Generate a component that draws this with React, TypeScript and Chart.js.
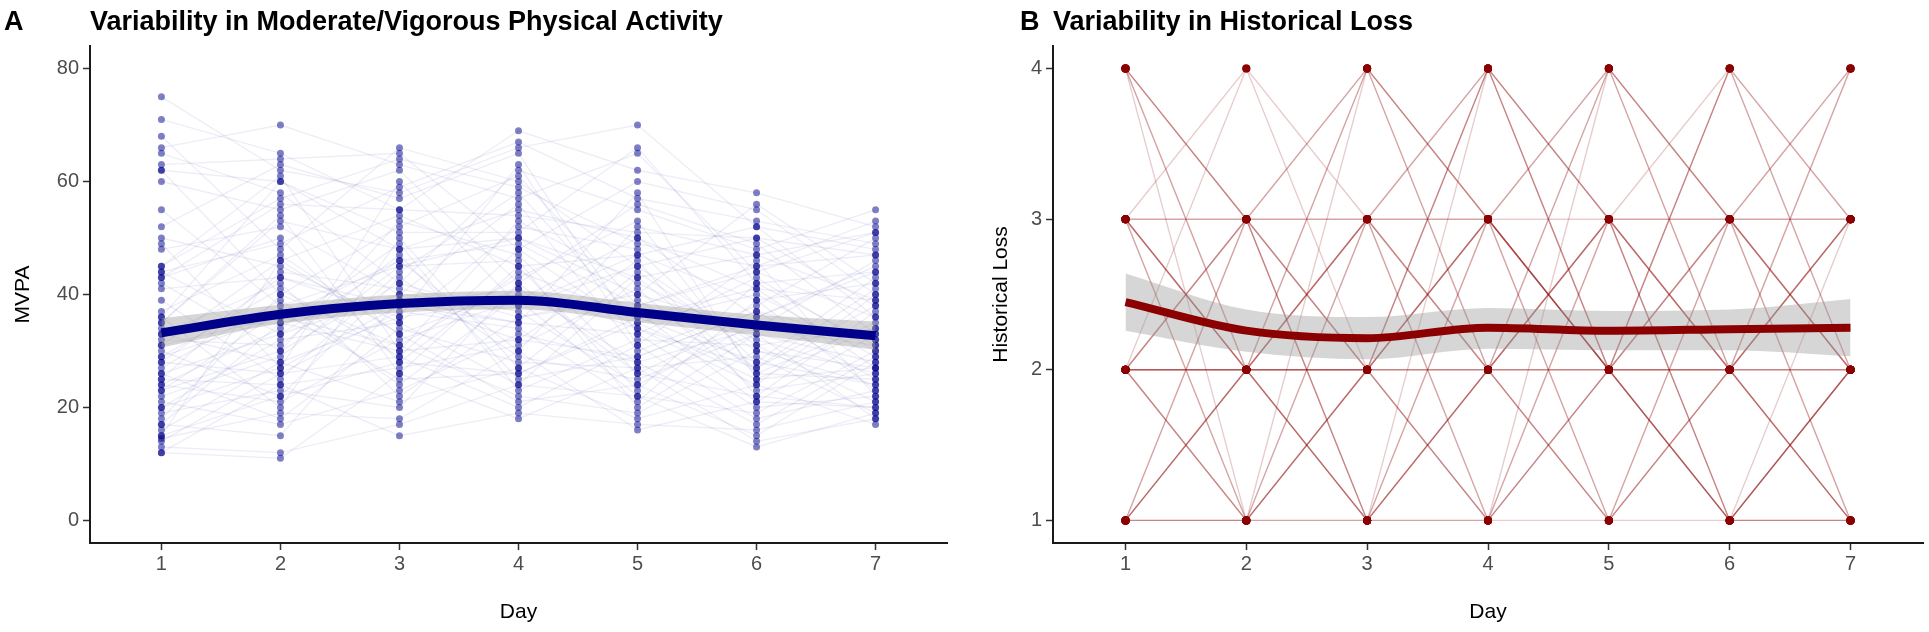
import React, { useEffect, useRef } from "react";
import { Chart, registerables } from "chart.js";

Chart.register(...registerables);

// ---------------- DATA ----------------
const days = [1, 2, 3, 4, 5, 6, 7];

// Panel A: MVPA per participant (index = participant) per day
const mvpaDay1 = [75,71,68,66,65,63,62,62,60,55,52,50,49,48,45,44,43,42,41,39,37,36,35,34,33,33,32,31,30,29,28,27,26,25,25,24,24,23,22,21,20,19,18,17,16,15,14.5,14,13,12,12,45,44,43,36,35,31,29,26,23,20,17,15,28];
const mvpaDay2 = [62,65,48,70,58,64,40,60,55,38,63,45,27,52,61,33,50,30,43,25,47,20,54,35,28,42,31,36,22,41,26,39,18,44,24,34,21,37,29,17,32,23,40,15,28,46,19,26,12,24,11,57,49,56,60,53,46,36,33,30,27,35,22,43];
const mvpaDay3 = [58,55,66,63,42,65,52,48,62,45,57,35,60,40,30,46,28,53,38,44,33,50,26,39,36,22,47,31,43,29,37,24,34,41,27,49,32,25,45,23,35,20,31,39,21,33,18,29,17,15,26,64,59,55,51,48,54,46,40,42,38,30,28,36];
const mvpaDay4 = [66,69,60,57,62,48,61,55,42,50,65,52,38,56,53,30,44,47,35,58,41,27,45,32,63,36,25,43,29,48,34,40,28,37,31,23,39,26,46,33,24,42,22,35,27,21,30,20,24,19,18,59,67,54,51,50,45,49,38,36,41,32,26,39];
const mvpaDay5 = [70,62,45,65,55,60,38,50,56,40,33,48,47,30,42,52,36,26,58,35,28,44,23,46,31,39,29,53,25,34,21,37,27,24,41,32,22,36,20,28,43,26,19,33,18,24,16,31,22,17,27,49,57,51,66,43,47,38,45,40,34,29,35,50];
const mvpaDay6 = [52,58,50,44,48,55,45,36,49,56,43,28,52,38,32,47,41,36,25,40,34,30,42,22,46,27,37,26,33,24,39,21,29,35,23,31,19,28,33,17,26,22,30,20,24,15,21,18,13,16,14,45,53,50,42,47,39,44,31,34,27,37,25,41];
const mvpaDay7 = [48,52,38,51,55,40,47,45,33,42,30,43,36,50,26,39,27,44,34,29,46,24,31,37,22,41,25,35,28,40,23,33,19,32,26,21,30,24,18,29,25,20,27,22,17,28,20,23,19,21,18,53,49,47,44,51,42,36,34,31,38,32,27,39];
const mvpaSmooth = [33.2, 36.5, 38.4, 39.0, 36.8, 34.6, 32.7];
const mvpaUpper = [35.8, 38.2, 40.0, 40.6, 38.5, 36.4, 35.2];
const mvpaLower = [30.6, 34.8, 36.8, 37.4, 35.1, 32.8, 30.2];
const mvpaTicks = [0, 20, 40, 60, 80];

// Panel B: Historical Loss per participant per day
const lossDay1 = [4,4,4,3,3,3,3,2,2,2,2,1,1,1,1,2,4,3,2,1,3,2,4,1,2,3,1,2,3,2,1,3,2,4,1,2];
const lossDay2 = [2,3,1,3,2,1,4,2,3,1,2,2,1,3,2,3,2,2,1,1,3,2,3,2,3,2,2,4,1,2,3,2,1,3,1,2];
const lossDay3 = [1,2,3,4,1,2,3,3,1,1,2,4,1,2,3,4,2,3,2,3,2,1,1,2,3,4,1,2,2,3,1,2,4,3,2,2];
const lossDay4 = [2,3,4,3,1,2,1,2,4,2,3,3,1,1,4,2,1,2,1,3,4,3,2,4,2,3,2,3,3,1,3,2,2,3,4,2];
const lossDay5 = [3,2,3,2,1,4,2,3,2,1,4,1,2,3,2,3,4,2,2,1,3,2,3,3,1,3,2,4,2,3,2,1,2,2,2,4];
const lossDay6 = [1,2,2,3,2,3,4,1,3,1,2,2,1,2,4,3,3,1,1,2,2,4,2,3,3,1,3,2,2,4,2,3,1,2,1,3];
const lossDay7 = [2,3,4,2,1,3,3,1,2,2,1,3,1,4,2,4,2,2,1,3,2,3,1,2,4,2,1,3,1,2,2,3,2,2,3,1];
const lossSmooth = [2.45, 2.26, 2.21, 2.28, 2.26, 2.27, 2.28];
const lossUpper = [2.64, 2.40, 2.35, 2.41, 2.39, 2.40, 2.47];
const lossLower = [2.26, 2.12, 2.07, 2.14, 2.13, 2.13, 2.09];
const lossTicks = [1, 2, 3, 4];

// ---------------- STYLE ----------------
const FONT = "'Liberation Sans', Arial, Helvetica, sans-serif";
const H = 632;

const titlePlugin = {
  id: "panelTitle",
  afterDraw(chart: any, _args: any, opts: any) {
    const { ctx, chartArea } = chart;
    ctx.save();
    ctx.fillStyle = "#000";
    ctx.textBaseline = "alphabetic";
    ctx.textAlign = "left";
    ctx.font = `bold 27px ${FONT}`;
    ctx.fillText(opts.letter, opts.letterX, 30);
    ctx.fillText(opts.text, chartArea.left, 30);
    ctx.restore();
  },
};

function buildConfig(p: {
  dayArrays: number[][];
  smooth: number[];
  upper: number[];
  lower: number[];
  ticks: number[];
  yMin: number;
  yMax: number;
  lineColor: string;
  pointColor: string;
  pointRadius: number;
  smoothColor: string;
  smoothWidth: number;
  yTitle: string;
  yWidth: number;
  yTitlePad: number;
  padRight: number;
  letter: string;
  letterX: number;
  title: string;
}) {
  const n = p.dayArrays[0].length;
  const participantLines = Array.from({ length: n }, (_, i) => ({
    type: "line",
    data: days.map((d, k) => ({ x: d, y: p.dayArrays[k][i] })),
    borderColor: p.lineColor,
    borderWidth: 1.4,
    pointRadius: 0,
    fill: false,
    tension: 0,
    order: 4,
  }));
  const points = {
    type: "scatter",
    data: days.flatMap((d, k) => p.dayArrays[k].map((v) => ({ x: d, y: v }))),
    pointBackgroundColor: p.pointColor,
    pointBorderWidth: 0,
    pointRadius: p.pointRadius,
    showLine: false,
    order: 3,
  };
  const ribbonUpper = {
    type: "line",
    data: days.map((d, k) => ({ x: d, y: p.upper[k] })),
    borderWidth: 0,
    borderColor: "rgba(0,0,0,0)",
    pointRadius: 0,
    fill: "+1",
    backgroundColor: "rgba(153,153,153,0.4)",
    cubicInterpolationMode: "monotone",
    order: 2,
  };
  const ribbonLower = {
    type: "line",
    data: days.map((d, k) => ({ x: d, y: p.lower[k] })),
    borderWidth: 0,
    borderColor: "rgba(0,0,0,0)",
    pointRadius: 0,
    fill: false,
    cubicInterpolationMode: "monotone",
    order: 2,
  };
  const smoothLine = {
    type: "line",
    data: days.map((d, k) => ({ x: d, y: p.smooth[k] })),
    borderColor: p.smoothColor,
    borderWidth: p.smoothWidth,
    pointRadius: 0,
    fill: false,
    cubicInterpolationMode: "monotone",
    order: 1,
  };

  const tickFont = { family: FONT, size: 20 };
  const titleFont = { family: FONT, size: 21 };

  return {
    type: "scatter",
    data: { datasets: [smoothLine, ribbonUpper, ribbonLower, points, ...participantLines] },
    plugins: [titlePlugin],
    options: {
      animation: false,
      responsive: false,
      maintainAspectRatio: false,
      events: [],
      layout: { padding: { left: 0, right: p.padRight, top: 46, bottom: 0 } },
      plugins: {
        legend: { display: false },
        tooltip: { enabled: false },
        title: { display: false },
        panelTitle: { letter: p.letter, letterX: p.letterX, text: p.title },
      },
      scales: {
        x: {
          type: "linear",
          min: 0.4,
          max: 7.6,
          afterBuildTicks: (s: any) => {
            s.ticks = days.map((v) => ({ value: v }));
          },
          afterFit: (s: any) => {
            s.height = H - 543;
          },
          grid: {
            display: true,
            drawOnChartArea: false,
            drawTicks: true,
            tickLength: 7,
            tickColor: "#333",
            tickWidth: 1.5,
          },
          border: { display: true, color: "#1a1a1a", width: 2 },
          ticks: {
            color: "#4d4d4d",
            font: tickFont,
            padding: 2,
            autoSkip: false,
            maxRotation: 0,
            callback: (v: any) => String(v),
          },
          title: {
            display: true,
            text: "Day",
            color: "#000",
            font: titleFont,
            padding: { top: 0, bottom: 7 },
          },
        },
        y: {
          type: "linear",
          min: p.yMin,
          max: p.yMax,
          afterBuildTicks: (s: any) => {
            s.ticks = p.ticks.map((v) => ({ value: v }));
          },
          afterFit: (s: any) => {
            s.width = p.yWidth;
          },
          grid: {
            display: true,
            drawOnChartArea: false,
            drawTicks: true,
            tickLength: 7,
            tickColor: "#333",
            tickWidth: 1.5,
          },
          border: { display: true, color: "#1a1a1a", width: 2 },
          ticks: {
            color: "#4d4d4d",
            font: tickFont,
            padding: 4,
            autoSkip: false,
            callback: (v: any) => String(v),
          },
          title: {
            display: true,
            text: p.yTitle,
            color: "#000",
            font: titleFont,
            padding: { top: p.yTitlePad, bottom: 0 },
          },
        },
      },
    },
  };
}

const LEFT_W = 965;
const RIGHT_W = 1929 - LEFT_W;

export default function App() {
  const refA = useRef<HTMLCanvasElement | null>(null);
  const refB = useRef<HTMLCanvasElement | null>(null);

  useEffect(() => {
    const cfgA = buildConfig({
      dayArrays: [mvpaDay1, mvpaDay2, mvpaDay3, mvpaDay4, mvpaDay5, mvpaDay6, mvpaDay7],
      smooth: mvpaSmooth,
      upper: mvpaUpper,
      lower: mvpaLower,
      ticks: mvpaTicks,
      yMin: -4,
      yMax: 84,
      lineColor: "rgba(0,0,139,0.07)",
      pointColor: "rgba(0,0,139,0.5)",
      pointRadius: 3.5,
      smoothColor: "#00008B",
      smoothWidth: 9,
      yTitle: "MVPA",
      yWidth: 90,
      yTitlePad: 11,
      padRight: LEFT_W - 947,
      letter: "A",
      letterX: 4,
      title: "Variability in Moderate/Vigorous Physical Activity",
    });
    const cfgB = buildConfig({
      dayArrays: [lossDay1, lossDay2, lossDay3, lossDay4, lossDay5, lossDay6, lossDay7],
      smooth: lossSmooth,
      upper: lossUpper,
      lower: lossLower,
      ticks: lossTicks,
      yMin: 0.85,
      yMax: 4.15,
      lineColor: "rgba(139,0,0,0.2)",
      pointColor: "#8B0000",
      pointRadius: 4,
      smoothColor: "#8B0000",
      smoothWidth: 8,
      yTitle: "Historical Loss",
      yWidth: 1053 - LEFT_W,
      yTitlePad: 24,
      padRight: 1929 - 1923,
      letter: "B",
      letterX: 1020 - LEFT_W,
      title: "Variability in Historical Loss",
    });
    const a = new Chart(refA.current as HTMLCanvasElement, cfgA as any);
    const b = new Chart(refB.current as HTMLCanvasElement, cfgB as any);
    return () => {
      a.destroy();
      b.destroy();
    };
  }, []);

  return (
    <div style={{ position: "fixed", left: 0, top: 0, width: 1929, height: H, background: "#fff" }}>
      <canvas
        ref={refA}
        width={LEFT_W}
        height={H}
        style={{ position: "absolute", left: 0, top: 0, width: LEFT_W, height: H }}
      />
      <canvas
        ref={refB}
        width={RIGHT_W}
        height={H}
        style={{ position: "absolute", left: LEFT_W, top: 0, width: RIGHT_W, height: H }}
      />
    </div>
  );
}
